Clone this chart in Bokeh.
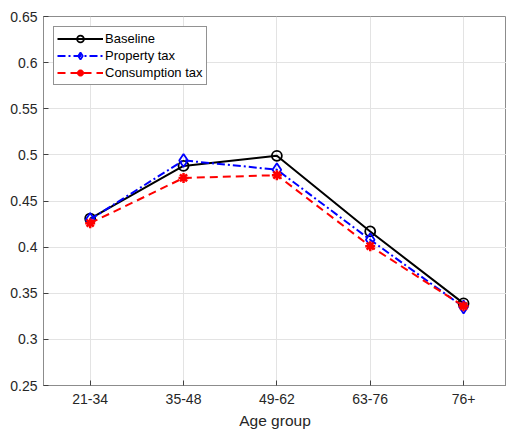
from bokeh.plotting import figure
from bokeh.embed import file_html
from bokeh.resources import INLINE
from bokeh.models import FixedTicker, Range1d

groups = ["21-34", "35-48", "49-62", "63-76", "76+"]
baseline = [0.431, 0.488, 0.499, 0.417, 0.339]
property_tax = [0.430, 0.494, 0.484, 0.408, 0.335]
consumption_tax = [0.426, 0.475, 0.478, 0.401, 0.336]
yticks = [0.25, 0.3, 0.35, 0.4, 0.45, 0.5, 0.55, 0.6, 0.65]

x = list(range(1, len(groups) + 1))

p = figure(width=506, height=433, output_backend="svg", toolbar_location=None,
           x_range=Range1d(0.5, 5.46), y_range=Range1d(0.25, 0.65),
           min_border_left=43, min_border_top=16, min_border_bottom=48, min_border_right=0)
p.background_fill_color = "white"
p.outline_line_color = "#8c8c8c"
p.outline_line_width = 1

FONT = "Liberation Sans"
for ax in (p.xaxis[0], p.yaxis[0]):
    ax.axis_line_color = "#8c8c8c"
    ax.major_tick_in = 5
    ax.major_tick_out = 0
    ax.minor_tick_line_color = None
    ax.major_tick_line_color = "#404040"
    ax.major_label_text_font = FONT
    ax.major_label_text_font_size = "14px"
    ax.major_label_text_color = "#262626"
    ax.axis_label_text_font = FONT
    ax.axis_label_text_font_style = "normal"
    ax.axis_label_text_color = "#262626"

p.xaxis.ticker = FixedTicker(ticks=x)
p.xaxis.major_label_overrides = {i: g for i, g in zip(x, groups)}
p.xaxis.axis_label = "Age group"
p.xaxis.axis_label_text_font_size = "15.5px"
p.xaxis.axis_label_standoff = 5
p.xaxis.major_label_standoff = 8
p.yaxis.ticker = FixedTicker(ticks=yticks)
p.yaxis.major_label_overrides = {t: f"{t:g}" for t in yticks}
p.yaxis.major_label_standoff = 6

p.xgrid.grid_line_color = "#e3e3e3"
p.ygrid.grid_line_color = "#e3e3e3"
p.xgrid.ticker = FixedTicker(ticks=x)
p.ygrid.ticker = FixedTicker(ticks=yticks)

p.line(x, baseline, color="black", line_width=2, legend_label="Baseline")
p.scatter(x, baseline, marker="circle", size=10, fill_color=None, line_color="black",
          line_width=1.8, legend_label="Baseline")

p.line(x, property_tax, color="blue", line_width=2, line_dash="8 3 2 3", legend_label="Property tax")
p.scatter(x, property_tax, marker="diamond", size=13, fill_color=None, line_color="blue",
          line_width=1.8, legend_label="Property tax")

p.line(x, consumption_tax, color="red", line_width=2, line_dash="8 5", legend_label="Consumption tax")
p.scatter(x, consumption_tax, marker="asterisk", size=10, line_color="red",
          line_width=2.5, legend_label="Consumption tax")

p.legend.location = "top_left"
p.legend.margin = 10
p.legend.padding = 3
p.legend.spacing = 0
p.legend.label_height = 17
p.legend.glyph_height = 17
p.legend.glyph_width = 46
p.legend.label_standoff = 2
p.legend.label_text_font = FONT
p.legend.label_text_font_size = "13px"
p.legend.label_text_color = "black"
p.legend.border_line_color = "#262626"
p.legend.border_line_width = 1
p.legend.background_fill_alpha = 1

open("out.html", "w").write(file_html(p, INLINE))
